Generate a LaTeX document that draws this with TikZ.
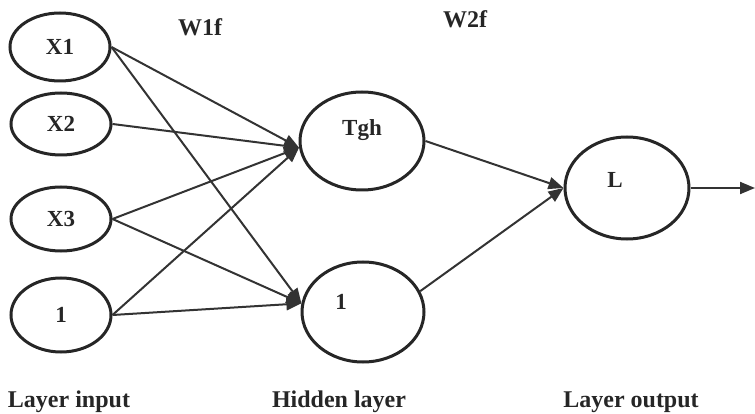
\documentclass[tikz,border=0pt]{standalone}
\usepackage{fontspec}
\setmainfont{Liberation Serif}
\usetikzlibrary{shapes.geometric,arrows.meta}
\begin{document}
\begin{tikzpicture}[x=1pt,y=-1pt,
  neuron/.style={ellipse,draw=black!85,line width=3pt,inner sep=0pt,
    font=\fontsize{23}{26}\selectfont\bfseries,text=black!85},
  tag/.style={font=\fontsize{23}{26}\selectfont\bfseries,text=black!85},
  lbl/.style={font=\fontsize{24}{27}\selectfont\bfseries,text=black!85},
  wire/.style={draw=black!80,line width=2pt,
    -{Triangle[length=15pt,width=12pt]}},
]
\useasboundingbox (0,0) rectangle (755,414);
% input layer
\node[neuron,minimum width=100pt,minimum height=68pt] (x1) at (60,47) {X1};
\node[neuron,minimum width=100pt,minimum height=62pt] (x2) at (61,124) {X2};
\node[neuron,minimum width=100pt,minimum height=64pt] (x3) at (61,219) {X3};
\node[neuron,minimum width=100pt,minimum height=74pt] (b1) at (61,315) {1};
% hidden layer (captions sit above and left of the centre)
\node[neuron,minimum width=124pt,minimum height=98pt,
  label={[tag,yshift=11pt]center:Tgh}] (tgh) at (362,141) {};
\node[neuron,minimum width=122pt,minimum height=100pt,
  label={[tag,xshift=-22pt,yshift=10pt]center:1}] (h1) at (363,312) {};
% output layer
\node[neuron,minimum width=124pt,minimum height=102pt,
  label={[tag,xshift=-12pt,yshift=8pt]center:L}] (out) at (627,188) {};
\coordinate (y) at (755,188);
% labels
\node[lbl] (w1) at (200,27) {W1f};
\node[lbl] (w2) at (465,19) {W2f};
\node[lbl] (li) at (69,402) {Layer input};
\node[lbl] (hl) at (339,402) {Hidden layer};
\node[lbl] (lo) at (631,402) {Layer output};
% input to hidden weights
\draw[wire] (x1.east) -- (tgh.186);
\draw[wire] (x1.east) -- (h1.172);
\draw[wire] (x2.east) -- (tgh.186);
\draw[wire] (x3.east) -- (tgh.186);
\draw[wire] (x3.east) -- (h1.172);
\draw[wire] (b1.east) -- (tgh.186);
\draw[wire] (b1.east) -- (h1.172);
% hidden to output weights
\draw[wire] (tgh.east) -- (out.west);
\draw[wire] (h1.20) -- (out.west);
\draw[wire] (out.east) -- (y);
\end{tikzpicture}
\end{document}
